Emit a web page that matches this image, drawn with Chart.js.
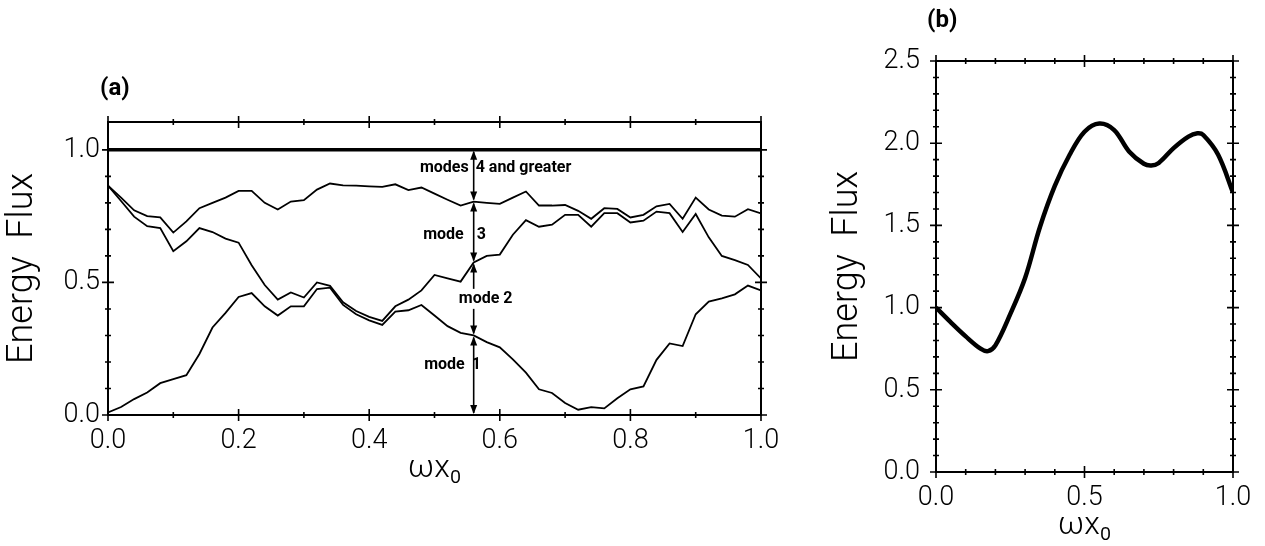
<!DOCTYPE html>
<html>
<head>
<meta charset="utf-8">
<script src="https://cdn.jsdelivr.net/npm/chart.js@4.4.0/dist/chart.umd.min.js"></script>
<style>
    html, body { margin: 0; padding: 0; background: #fff; }
    body { width: 1265px; height: 546px; position: relative; overflow: hidden; }
    #wrapA { position: absolute; left: 0; top: 0; width: 790px; height: 546px; }
    #wrapB { position: absolute; left: 790px; top: 0; width: 475px; height: 546px; }
    .tag { position: absolute; font: bold 24px Roboto, "Noto Sans", sans-serif; color: #000; }
</style>
</head>
<body>
<div id="wrapA"><canvas id="chartA"></canvas></div>
<div id="wrapB"><canvas id="chartB"></canvas></div>
<div class="tag" style="left:100px; top:73px;">(a)</div>
<div class="tag" style="left:927px; top:5px;">(b)</div>
<script>
// panel (a): cumulative energy flux by mode
const aX = [0.00, 0.02, 0.04, 0.06, 0.08, 0.10, 0.12, 0.14, 0.16, 0.18,
            0.20, 0.22, 0.24, 0.26, 0.28, 0.30, 0.32, 0.34, 0.36, 0.38,
            0.40, 0.42, 0.44, 0.46, 0.48, 0.50, 0.52, 0.54, 0.56, 0.58,
            0.60, 0.62, 0.64, 0.66, 0.68, 0.70, 0.72, 0.74, 0.76, 0.78,
            0.80, 0.82, 0.84, 0.86, 0.88, 0.90, 0.92, 0.94, 0.96, 0.98, 1.00];
const aMode1 = [0.01, 0.03, 0.06, 0.085, 0.12, 0.135, 0.15, 0.23, 0.33, 0.385,
                0.445, 0.46, 0.41, 0.375, 0.41, 0.41, 0.475, 0.48, 0.415, 0.38,
                0.357, 0.34, 0.39, 0.395, 0.415, 0.375, 0.335, 0.31, 0.30, 0.275,
                0.255, 0.21, 0.16, 0.097, 0.083, 0.045, 0.02, 0.03, 0.025, 0.063,
                0.097, 0.108, 0.208, 0.27, 0.26, 0.38, 0.428, 0.44, 0.455, 0.488, 0.47];
const aMode12 = [0.865, 0.807, 0.748, 0.712, 0.705, 0.618, 0.655, 0.705, 0.69, 0.665,
                 0.65, 0.565, 0.49, 0.435, 0.462, 0.443, 0.50, 0.487, 0.425, 0.392,
                 0.37, 0.355, 0.41, 0.435, 0.47, 0.528, 0.515, 0.503, 0.575, 0.60,
                 0.605, 0.68, 0.735, 0.71, 0.718, 0.755, 0.755, 0.71, 0.761, 0.761,
                 0.726, 0.733, 0.767, 0.761, 0.69, 0.758, 0.67, 0.60, 0.584, 0.566, 0.515];
const aMode123 = [0.865, 0.82, 0.772, 0.75, 0.745, 0.688, 0.73, 0.78, 0.80, 0.82,
                  0.845, 0.845, 0.80, 0.775, 0.805, 0.81, 0.85, 0.873, 0.866, 0.865,
                  0.862, 0.86, 0.87, 0.848, 0.858, 0.835, 0.812, 0.79, 0.805, 0.80,
                  0.796, 0.82, 0.843, 0.79, 0.79, 0.792, 0.77, 0.74, 0.78, 0.777,
                  0.745, 0.755, 0.787, 0.796, 0.74, 0.82, 0.775, 0.752, 0.748, 0.776, 0.76];
const aTotalX = [0.0, 1.0];
const aTotal = [1.0, 1.0];
const aXMajor = [0.0, 0.2, 0.4, 0.6, 0.8, 1.0];
const aXMinor = [0.1, 0.3, 0.5, 0.7, 0.9];
const aYMajor = [0.0, 0.5, 1.0];
const aYMinor = [0.1, 0.2, 0.3, 0.4, 0.6, 0.7, 0.8, 0.9];
const arrowAt = 0.56;
const modeLabels = ["modes 4 and greater", "mode 3", "mode 2", "mode 1"];

// panel (b): total energy flux
const bX = [0.0, 0.05, 0.1, 0.15, 0.175, 0.2, 0.25, 0.3, 0.35, 0.4, 0.45,
            0.5, 0.55, 0.6, 0.65, 0.7, 0.725, 0.75, 0.8, 0.85, 0.88, 0.9, 0.95, 1.0];
const bFlux = [1.0, 0.91, 0.825, 0.75, 0.735, 0.77, 0.96, 1.18, 1.49, 1.74, 1.93,
               2.07, 2.12, 2.08, 1.95, 1.875, 1.865, 1.88, 1.97, 2.04, 2.06, 2.05, 1.93, 1.70];
const bXMajor = [0.0, 0.5, 1.0];
const bXMinor = [0.1, 0.2, 0.3, 0.4, 0.6, 0.7, 0.8, 0.9];
const bYMajor = [0.0, 0.5, 1.0, 1.5, 2.0, 2.5];
const bYMinor = [0.1, 0.2, 0.3, 0.4, 0.6, 0.7, 0.8, 0.9, 1.1, 1.2, 1.3, 1.4,
                 1.6, 1.7, 1.8, 1.9, 2.1, 2.2, 2.3, 2.4];

const FONT = "Roboto, 'Noto Sans', sans-serif";

const toPoints = (xs, ys) => xs.map((x, i) => ({ x: x, y: ys[i] }));

// box around the plot with ticks crossing all four sides
const frameTicks = {
    id: "frameTicks",
    afterDatasetsDraw(chart, args, opts) {
        const { ctx, chartArea: area, scales: { x, y } } = chart;
        ctx.save();
        ctx.strokeStyle = "#000";
        ctx.lineWidth = 2;
        ctx.strokeRect(area.left, area.top, area.right - area.left, area.bottom - area.top);
        ctx.lineWidth = 1.6;
        const xTicks = (vals, len) => vals.forEach(v => {
            const px = x.getPixelForValue(v);
            ctx.beginPath();
            ctx.moveTo(px, area.bottom - len); ctx.lineTo(px, area.bottom + len);
            ctx.moveTo(px, area.top - len); ctx.lineTo(px, area.top + len);
            ctx.stroke();
        });
        const yTicks = (vals, len) => vals.forEach(v => {
            const py = y.getPixelForValue(v);
            ctx.beginPath();
            ctx.moveTo(area.left - len, py); ctx.lineTo(area.left + len, py);
            ctx.moveTo(area.right - len, py); ctx.lineTo(area.right + len, py);
            ctx.stroke();
        });
        xTicks(opts.xMajor, 6);
        xTicks(opts.xMinor, 3);
        yTicks(opts.yMajor, 6);
        yTicks(opts.yMinor, 3);
        ctx.restore();
    }
};

// double arrows between the cumulative curves, with mode labels
const modeArrows = {
    id: "modeArrows",
    afterDatasetsDraw(chart, args, opts) {
        if (!opts.enabled) return;
        const { ctx, scales: { x, y } } = chart;
        const i = aX.indexOf(arrowAt);
        const bounds = [aTotal[0], aMode123[i], aMode12[i], aMode1[i], 0];
        const px = x.getPixelForValue(arrowAt);
        ctx.save();
        ctx.strokeStyle = "#000";
        ctx.fillStyle = "#000";
        ctx.lineWidth = 1.6;
        const head = (py, dir) => {
            ctx.beginPath();
            ctx.moveTo(px, py);
            ctx.lineTo(px - 3.5, py + dir * 9);
            ctx.lineTo(px + 3.5, py + dir * 9);
            ctx.closePath();
            ctx.fill();
        };
        for (let k = 0; k < 4; k++) {
            const top = y.getPixelForValue(bounds[k]);
            const bot = y.getPixelForValue(bounds[k + 1]);
            ctx.beginPath();
            ctx.moveTo(px, top + 2); ctx.lineTo(px, bot - 2);
            ctx.stroke();
            head(top + 1, 1);
            head(bot - 1, -1);
        }
        ctx.font = "bold 16px " + FONT;
        ctx.textBaseline = "middle";
        const spots = opts.spots;
        modeLabels.forEach((txt, k) => {
            const s = spots[k];
            const py = y.getPixelForValue(s.y);
            const words = txt.split(" ");
            const leftTxt = words[0];
            const rightTxt = words.slice(1).join(" ");
            if (s.mode === "split") {
                ctx.textAlign = "right";
                ctx.fillText(leftTxt, px - s.gapL, py);
                ctx.textAlign = "left";
                ctx.fillText(rightTxt, px + s.gapR, py);
            } else {
                const w = ctx.measureText(txt).width;
                const cx = px + s.shift;
                ctx.fillStyle = "#fff";
                ctx.fillRect(cx - w / 2 - 2, py - 10, w + 4, 20);
                ctx.fillStyle = "#000";
                ctx.textAlign = "center";
                ctx.fillText(txt, cx, py);
            }
        });
        ctx.restore();
    }
};

Chart.register(frameTicks, modeArrows);
Chart.defaults.font.family = FONT;
Chart.defaults.color = "#000";

const axisCommon = (min, max, major, tickPad, labelWidth, title, titleSize, titlePad, isY) => ({
    type: "linear",
    min: min,
    max: max,
    afterBuildTicks: scale => { scale.ticks = major.map(v => ({ value: v })); },
    afterFit: scale => {
        if (isY) scale.width = labelWidth; else scale.height = labelWidth;
    },
    grid: { display: false, drawTicks: false },
    border: { display: false },
    ticks: {
        autoSkip: false,
        maxRotation: 0,
        padding: tickPad,
        font: { size: 27, weight: "300" },
        callback: v => Number(v).toFixed(1)
    },
    title: {
        display: true,
        text: title,
        font: { size: titleSize, weight: "300", lineHeight: 1.0 },
        padding: titlePad
    }
});

new Chart("chartA", {
    type: "line",
    data: {
        datasets: [
            { data: toPoints(aTotalX, aTotal), borderColor: "#000", borderWidth: 3.5 },
            { data: toPoints(aX, aMode123), borderColor: "#000", borderWidth: 1.8 },
            { data: toPoints(aX, aMode12), borderColor: "#000", borderWidth: 1.8 },
            { data: toPoints(aX, aMode1), borderColor: "#000", borderWidth: 1.8 }
        ]
    },
    options: {
        responsive: true,
        maintainAspectRatio: false,
        animation: false,
        events: [],
        elements: { point: { radius: 0 }, line: { tension: 0 } },
        layout: { padding: { left: 0, top: 122, right: 29, bottom: 53 } },
        scales: {
            x: axisCommon(0, 1, aXMajor, 10, 78, "ωx₀", 32, { top: 0, bottom: 8 }, false),
            y: axisCommon(0, 1.105, aYMajor, 8, 108, "Energy  Flux", 36, { top: 5, bottom: 0 }, true)
        },
        plugins: {
            legend: { display: false },
            tooltip: { enabled: false },
            frameTicks: { xMajor: aXMajor, xMinor: aXMinor, yMajor: aYMajor, yMinor: aYMinor },
            modeArrows: {
                enabled: true,
                spots: [
                    { y: 0.932, mode: "split", gapL: 5, gapR: 2 },
                    { y: 0.679, mode: "split", gapL: 10, gapR: 3 },
                    { y: 0.438, mode: "center", shift: 12 },
                    { y: 0.189, mode: "split", gapL: 9, gapR: -2 }
                ]
            }
        }
    }
});

new Chart("chartB", {
    type: "line",
    data: {
        datasets: [
            { data: toPoints(bX, bFlux), borderColor: "#000", borderWidth: 4.5, tension: 0.35 }
        ]
    },
    options: {
        responsive: true,
        maintainAspectRatio: false,
        animation: false,
        events: [],
        elements: { point: { radius: 0 } },
        layout: { padding: { left: 0, top: 61, right: 32, bottom: 0 } },
        scales: {
            x: axisCommon(0, 1, bXMajor, 10, 74, "ωx₀", 32, { top: 0, bottom: 4 }, false),
            y: axisCommon(0, 2.5, bYMajor, 16, 146, "Energy  Flux", 36, { top: 40, bottom: 0 }, true)
        },
        plugins: {
            legend: { display: false },
            tooltip: { enabled: false },
            frameTicks: { xMajor: bXMajor, xMinor: bXMinor, yMajor: bYMajor, yMinor: bYMinor },
            modeArrows: { enabled: false }
        }
    }
});
</script>
</body>
</html>
